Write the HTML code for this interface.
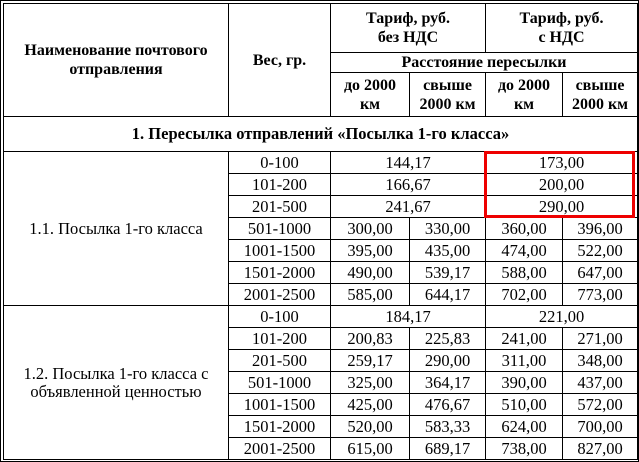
<!DOCTYPE html>
<html><head><meta charset="utf-8"><style>
html,body{margin:0;padding:0;background:#fff}
body{width:637px;height:460px;border:1px solid #000;position:relative;overflow:hidden}
table{position:absolute;left:2px;top:2px;border-collapse:collapse;table-layout:fixed;font-family:"Liberation Serif","Noto Serif CJK SC",serif;font-size:16.5px;color:#000}
td{border:1px solid #000;text-align:center;padding:0;line-height:18px;overflow:hidden;white-space:nowrap}
.h td{font-weight:bold;font-size:16px;line-height:19px}
td.b{font-weight:bold;font-size:16.5px}
tr.r td{height:21px}
#red{position:absolute;left:483px;top:150px;width:145px;height:61px;border:3px solid #e00}
</style></head><body>
<table>
<colgroup><col style="width:225px"><col style="width:102px"><col style="width:79px"><col style="width:76px"><col style="width:77px"><col style="width:75px"></colgroup>
<tr class="h"><td rowspan="3" style="height:112px">Наименование почтового<br>отправления</td><td rowspan="3">Вес, гр.</td><td colspan="2" style="height:48px">Тариф, руб.<br>без НДС</td><td colspan="2">Тариф, руб.<br>с НДС</td></tr>
<tr class="h"><td colspan="4" style="height:19px">Расстояние пересылки</td></tr>
<tr class="h"><td style="height:43px">до 2000<br>км</td><td>свыше<br>2000 км</td><td>до 2000<br>км</td><td>свыше<br>2000 км</td></tr>
<tr><td colspan="6" class="b" style="height:34px">1. Пересылка отправлений «Посылка 1-го класса»</td></tr>
<tr class="r"><td rowspan="7">1.1. Посылка 1-го класса</td><td>0-100</td><td colspan="2">144,17</td><td colspan="2">173,00</td></tr>
<tr class="r"><td>101-200</td><td colspan="2">166,67</td><td colspan="2">200,00</td></tr>
<tr class="r"><td>201-500</td><td colspan="2">241,67</td><td colspan="2">290,00</td></tr>
<tr class="r"><td>501-1000</td><td>300,00</td><td>330,00</td><td>360,00</td><td>396,00</td></tr>
<tr class="r"><td>1001-1500</td><td>395,00</td><td>435,00</td><td>474,00</td><td>522,00</td></tr>
<tr class="r"><td>1501-2000</td><td>490,00</td><td>539,17</td><td>588,00</td><td>647,00</td></tr>
<tr class="r"><td>2001-2500</td><td>585,00</td><td>644,17</td><td>702,00</td><td>773,00</td></tr>
<tr class="r"><td rowspan="7">1.2. Посылка 1-го класса с<br>объявленной ценностью</td><td>0-100</td><td colspan="2">184,17</td><td colspan="2">221,00</td></tr>
<tr class="r"><td>101-200</td><td>200,83</td><td>225,83</td><td>241,00</td><td>271,00</td></tr>
<tr class="r"><td>201-500</td><td>259,17</td><td>290,00</td><td>311,00</td><td>348,00</td></tr>
<tr class="r"><td>501-1000</td><td>325,00</td><td>364,17</td><td>390,00</td><td>437,00</td></tr>
<tr class="r"><td>1001-1500</td><td>425,00</td><td>476,67</td><td>510,00</td><td>572,00</td></tr>
<tr class="r"><td>1501-2000</td><td>520,00</td><td>583,33</td><td>624,00</td><td>700,00</td></tr>
<tr class="r"><td>2001-2500</td><td>615,00</td><td>689,17</td><td>738,00</td><td>827,00</td></tr>
</table>
<div id="red"></div>
</body></html>
